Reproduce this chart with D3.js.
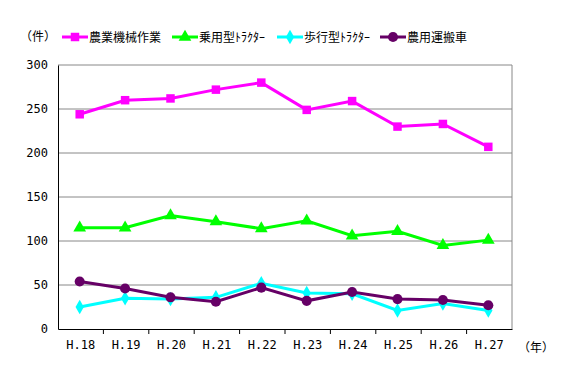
<!DOCTYPE html>
<html><head><meta charset="utf-8">
<script src="https://cdn.jsdelivr.net/npm/d3@7"></script>
<style>body{margin:0;background:#fff}svg{display:block}text{font-family:"Noto Sans CJK JP","DejaVu Sans Mono",monospace;font-size:12px;fill:#000}</style>
</head><body><svg id="c" width="567" height="378"></svg>
<script>
const categories = ["H.18","H.19","H.20","H.21","H.22","H.23","H.24","H.25","H.26","H.27"];
const seriesNames = ["農業機械作業","乗用型ﾄﾗｸﾀｰ","歩行型ﾄﾗｸﾀｰ","農用運搬車"];
const farmWork = [244,260,262,272,280,249,259,230,233,207];
const ridingTractor = [115,115,129,122,114,123,106,111,95,101];
const walkingTractor = [25,35,34,36,52,41,40,21,29,21];
const transportCart = [54,46,36,31,47,32,42,34,33,27];
const yTicks = [0,50,100,150,200,250,300];
const colors = ["#ff00ff","#00ff00","#00ffff","#660066"];
const symbols = [d3.symbolSquare, d3.symbolTriangle, d3.symbolDiamond, d3.symbolCircle];
const symSizes = [72, 70, 60, 80];
const allSeries = [farmWork, ridingTractor, walkingTractor, transportCart];

const svg = d3.select("#c");
const L=58, R=512, T=65, B=329;
const x = d3.scaleBand().domain(categories).range([L,R]);
const y = d3.scaleLinear().domain([0,300]).range([B,T]);
const cx = i => x(categories[i]) + x.bandwidth()/2 - 1;

// gridlines
svg.append("g").selectAll("line").data(yTicks.filter(d=>d>0)).join("line")
  .attr("x1",L).attr("x2",R).attr("y1",d=>y(d)).attr("y2",d=>y(d))
  .attr("stroke","#888").attr("stroke-width",1);
svg.append("line").attr("x1",R).attr("x2",R).attr("y1",T).attr("y2",B).attr("stroke","#888");

// axes
const yAxis = d3.axisLeft(y).tickValues(yTicks).tickSize(0).tickPadding(10);
const gy = svg.append("g").attr("transform",`translate(${L},0)`).call(yAxis);
gy.select(".domain").attr("stroke","#000");
gy.selectAll("text").style("font-size","12px").style("font-family","'DejaVu Sans Mono',monospace");

const xAxis = d3.axisBottom(x).tickSize(0).tickPadding(11);
const gx = svg.append("g").attr("transform",`translate(0,${B})`).call(xAxis);
gx.select(".domain").attr("stroke","#000");
gx.selectAll("text").style("font-size","12px").style("font-family","'DejaVu Sans Mono',monospace");
// tick marks between categories
svg.append("g").selectAll("line").data(categories.slice(1)).join("line")
  .attr("x1",d=>x(d)).attr("x2",d=>x(d)).attr("y1",B).attr("y2",B+5)
  .attr("stroke","#000");

// lines
const line = d3.line().x((d,i)=>cx(i)).y(d=>y(d));
allSeries.forEach((s,k)=>{
  svg.append("path").datum(s).attr("d",line).attr("fill","none")
    .attr("stroke",colors[k]).attr("stroke-width",3);
  svg.append("g").selectAll("path").data(s).join("path")
    .attr("d",d3.symbol().type(symbols[k]).size(symSizes[k]))
    .attr("transform",(d,i)=>`translate(${cx(i)},${y(d)})`)
    .attr("fill",colors[k]);
});

// unit labels
svg.append("text").attr("x",20).attr("y",41).text("（件）");
svg.append("text").attr("x",518).attr("y",352).text("（年）");

// legend
const legX = [62,172,277,380];
seriesNames.forEach((n,k)=>{
  const g = svg.append("g").attr("transform",`translate(${legX[k]},37)`);
  g.append("line").attr("x1",0).attr("x2",26).attr("stroke",colors[k]).attr("stroke-width",3);
  g.append("path").attr("d",d3.symbol().type(symbols[k]).size(symSizes[k])).attr("transform","translate(13,0)").attr("fill",colors[k]);
  g.append("text").attr("x",27).attr("y",4.5).text(n);
});
</script></body></html>
